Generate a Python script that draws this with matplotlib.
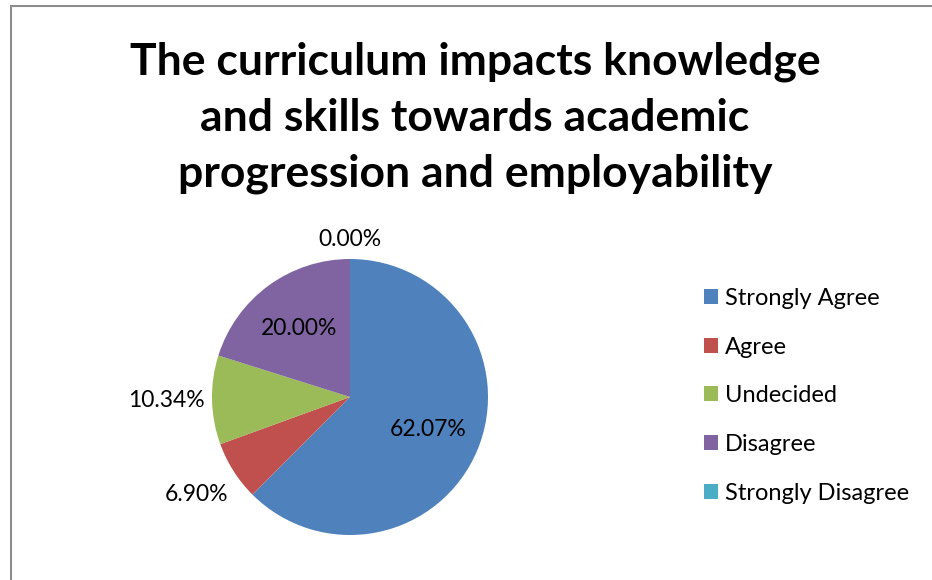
import matplotlib
matplotlib.use("Agg")
import matplotlib.pyplot as plt
from matplotlib.patches import Rectangle
import numpy as np

# 数据
categories = ["Strongly Agree", "Agree", "Undecided", "Disagree", "Strongly Disagree"]
values = [62.07, 6.90, 10.34, 20.00, 0.00]
value_labels = ["62.07%", "6.90%", "10.34%", "20.00%", "0.00%"]
colors = ["#4F81BD", "#C0504D", "#9BBB59", "#8064A2", "#4BACC6"]
label_dist = [0.61, 1.32, 1.33, 0.62, 1.14]

title = "The curriculum impacts knowledge\nand skills towards academic\nprogression and employability"

plt.rcParams['font.family'] = ['Lato', 'DejaVu Sans']

W, H = 932, 580
fig = plt.figure(figsize=(W / 100, H / 100), dpi=100)

# 外框
fig.patches.append(Rectangle((11 / W, -0.1), 1.2, 1 - 6 / H + 0.1, transform=fig.transFigure,
                             fill=False, edgecolor="#8c8c8c", linewidth=1.5))

# 饼图位置
cx, cy, r = 350, 397, 138
ax = fig.add_axes([(cx - r) / W, 1 - (cy + r) / H, 2 * r / W, 2 * r / H])
wedges, _ = ax.pie(values, colors=colors, startangle=90, counterclock=False,
                   radius=1, labels=None)
ax.set_xlim(-1, 1)
ax.set_ylim(-1, 1)
ax.set_aspect('auto')

for w, txt, d in zip(wedges, value_labels, label_dist):
    ang = np.deg2rad((w.theta1 + w.theta2) / 2)
    ax.text(d * np.cos(ang), d * np.sin(ang), txt, ha='center', va='center',
            fontsize=16.5, color='black', clip_on=False)

fig.text(475 / W, 1 - 118 / H, title, ha='center', va='center', fontsize=32,
         fontweight='bold', linespacing=1.48)

leg = fig.legend(wedges, categories, loc='upper left', bbox_to_anchor=(704 / W, 1 - 288 / H),
                 frameon=False, fontsize=17, handlelength=0.6, handleheight=0.6,
                 handletextpad=0.3, labelspacing=1.17, borderpad=0, borderaxespad=0)

fig.savefig("out.png", dpi=100)
